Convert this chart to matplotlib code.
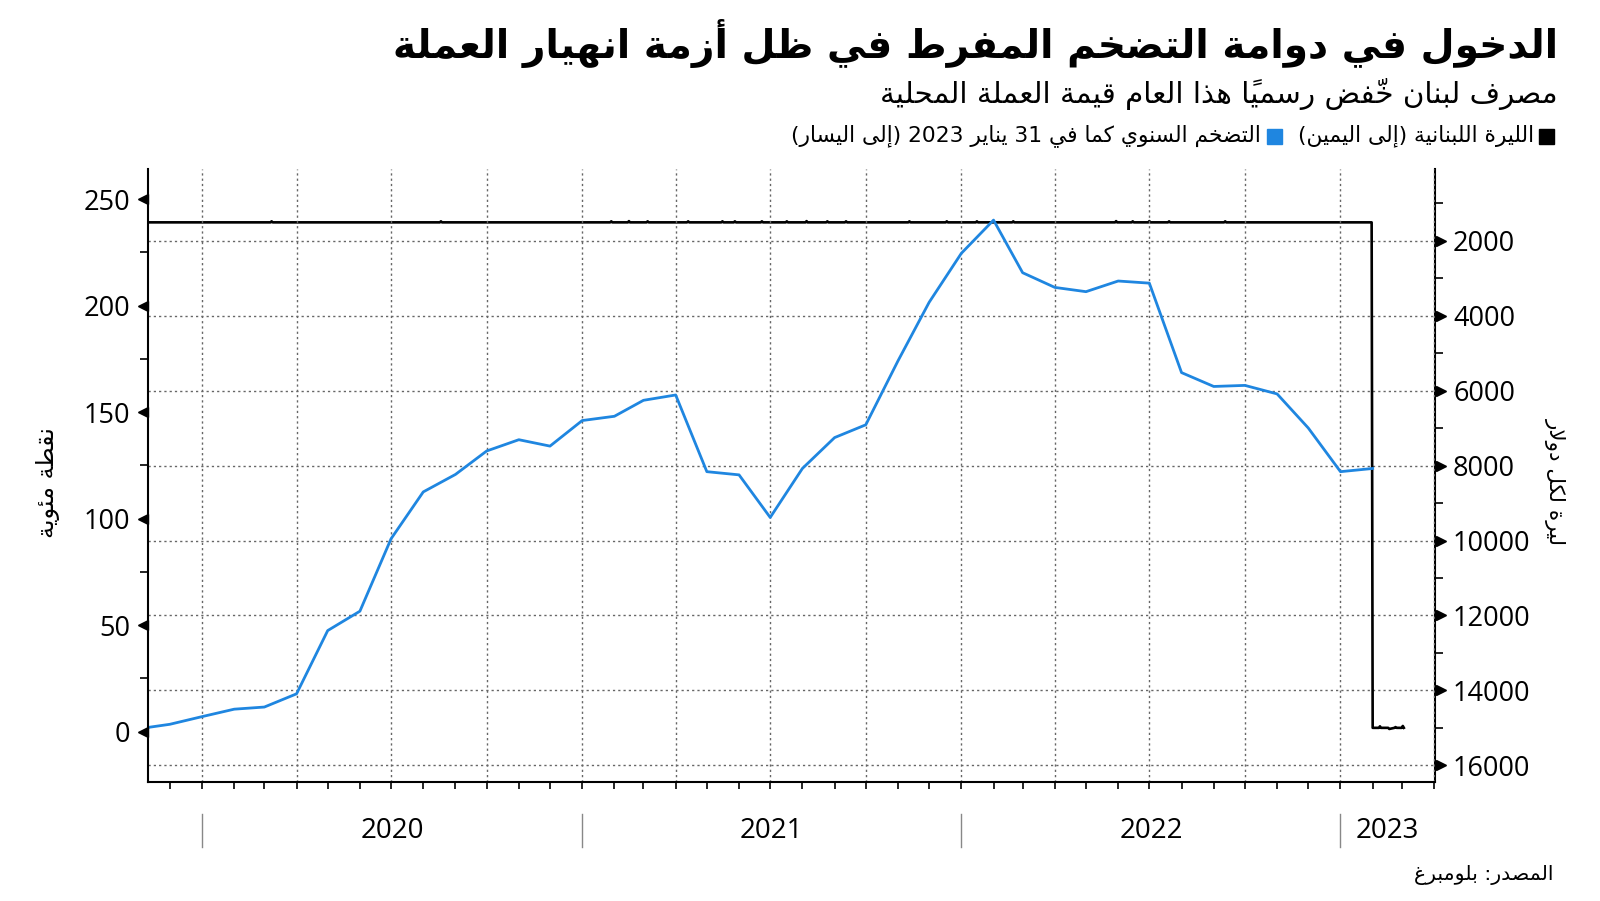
import matplotlib
matplotlib.use("Agg")
import matplotlib.pyplot as plt
import matplotlib.dates as mdates
import matplotlib.transforms as mtransforms
from matplotlib.patches import Rectangle
from matplotlib import font_manager as fm
import numpy as np
import pandas as pd

# ---- data ----
infl_months = pd.period_range("2019-10", "2023-01", freq="M")
infl_values = [1.3, 3.4, 7.0, 10.5, 11.5, 17.7, 47.4, 56.5, 90.5, 112.5,
               120.7, 131.7, 137.0, 134.0, 146.0, 148.0, 155.5, 158.0, 122.0, 120.5,
               100.5, 123.5, 138.0, 144.0, 174.0, 201.5, 224.5, 240.1, 215.4, 208.5,
               206.5, 211.5, 210.5, 168.5, 162.0, 162.5, 158.5, 142.5, 122.0, 123.5]

fx_peg = 1507.5                        # official rate until end of Jan 2023
fx_peg_start, fx_peg_end = "2019-11-01", "2023-01-31"
fx_blip_dates = ["2020-03-08", "2020-08-18", "2021-01-29", "2021-02-15", "2021-03-05",
                 "2021-04-13", "2021-05-16", "2021-05-28", "2021-06-23", "2021-07-17",
                 "2021-08-05", "2021-08-25", "2021-09-12", "2021-11-12", "2021-12-18",
                 "2022-01-16", "2022-02-20", "2022-05-30", "2022-06-15", "2022-07-01",
                 "2022-07-20", "2022-09-12"]
fx_blip_values = [1480, 1480, 1480, 1475, 1480, 1480, 1480, 1480, 1480, 1480,
                  1475, 1480, 1480, 1480, 1480, 1480, 1480, 1475, 1480, 1475,
                  1480, 1480]
fx_new_dates = ["2023-02-01", "2023-02-07", "2023-02-08", "2023-02-09", "2023-02-16",
                "2023-02-17", "2023-02-22", "2023-02-23", "2023-02-24", "2023-03-01",
                "2023-03-02", "2023-03-03"]
fx_new_values = [15000, 15000, 14960, 15000, 15000, 15030, 15000, 14980, 15000,
                 15000, 14950, 15000]

years = [2020, 2021, 2022, 2023]
left_ticks = [0, 50, 100, 150, 200, 250]
left_minor = [25, 75, 125, 175, 225]
right_ticks = [2000, 4000, 6000, 8000, 10000, 12000, 14000, 16000]
right_minor = [1000, 3000, 5000, 7000, 9000, 11000, 13000, 15000]

TITLE = "الدخول في دوامة التضخم المفرط في ظل أزمة انهيار العملة"
SUBTITLE = "مصرف لبنان خفّض رسمياً هذا العام قيمة العملة المحلية"
LEG_FX = "الليرة اللبنانية (إلى اليمين)"
LEG_CPI = "التضخم السنوي كما في 31 يناير 2023 (إلى اليسار)"
YLAB_L = "نقطة مئوية"
YLAB_R = "ليرة لكل دولار"
SOURCE = "المصدر: بلومبرغ"

BLUE = "#1f86e0"

# ---- minimal Arabic shaping + visual ordering (no bidi libs available) ----
DUAL = {'ئ': 0xFE89, 'ب': 0xFE8F, 'ت': 0xFE95, 'ث': 0xFE99, 'ج': 0xFE9D, 'ح': 0xFEA1,
        'خ': 0xFEA5, 'س': 0xFEB1, 'ش': 0xFEB5, 'ص': 0xFEB9, 'ض': 0xFEBD, 'ط': 0xFEC1,
        'ظ': 0xFEC5, 'ع': 0xFEC9, 'غ': 0xFECD, 'ف': 0xFED1, 'ق': 0xFED5, 'ك': 0xFED9,
        'ل': 0xFEDD, 'م': 0xFEE1, 'ن': 0xFEE5, 'ه': 0xFEE9, 'ي': 0xFEF1}
RIGHT = {'آ': 0xFE81, 'أ': 0xFE83, 'ؤ': 0xFE85, 'إ': 0xFE87, 'ا': 0xFE8D, 'ة': 0xFE93,
         'د': 0xFEA9, 'ذ': 0xFEAB, 'ر': 0xFEAD, 'ز': 0xFEAF, 'و': 0xFEED, 'ى': 0xFEEF}
LAMALEF = {'آ': 0xFEF5, 'أ': 0xFEF7, 'إ': 0xFEF9, 'ا': 0xFEFB}
MARKS = {chr(c) for c in range(0x064B, 0x0653)}


def ar(s):
    toks = []
    for ch in s:
        if ch in MARKS and toks:
            toks[-1][1] += ch
        else:
            toks.append([ch, ""])
    merged, i = [], 0
    while i < len(toks):
        c, m = toks[i]
        if c == 'ل' and i + 1 < len(toks) and toks[i + 1][0] in LAMALEF:
            merged.append(["LA" + toks[i + 1][0], m + toks[i + 1][1]])
            i += 2
        else:
            merged.append([c, m])
            i += 1

    def kind(c):
        if c in DUAL:
            return "D"
        if c in RIGHT or (len(c) == 3 and c.startswith("LA")):
            return "R"
        return "N"

    out = []
    for i, (c, m) in enumerate(merged):
        k = kind(c)
        pj = i > 0 and kind(merged[i - 1][0]) == "D"
        nj = i + 1 < len(merged) and kind(merged[i + 1][0]) in "DR"
        if k == "D":
            g = DUAL[c] + (3 if pj and nj else 1 if pj else 2 if nj else 0)
            out.append(chr(g) + m)
        elif k == "R":
            base = LAMALEF[c[2]] if len(c) == 3 else RIGHT[c]
            out.append(chr(base + (1 if pj else 0)) + m)
        else:
            out.append(c + m)
    vis, run = [], ""
    for t in out:
        if t.isdigit():
            run += t
        else:
            if run:
                vis.append(run)
                run = ""
            vis.append({"(": ")", ")": "("}.get(t, t))
    if run:
        vis.append(run)
    return "".join(reversed(vis))


names = {f.name for f in fm.fontManager.ttflist}
YEAR_FONT = "Liberation Sans Narrow" if "Liberation Sans Narrow" in names else "Open Sans"
AR_FONT = ["DejaVu Sans"]

# ---- figure ----
fig = plt.figure(figsize=(16, 9.01), dpi=100)
W, H = 1600, 901
ax = fig.add_axes([148 / W, 1 - 781.6 / H, (1435 - 148) / W, (781.6 - 169.4) / H])
ax2 = ax.twinx()
ax.set_zorder(3)
ax2.set_zorder(2)
ax.patch.set_visible(False)

# FX series (right axis, inverted)
fx = pd.Series(fx_peg, index=pd.date_range(fx_peg_start, fx_peg_end, freq="D"))
fx.loc[pd.to_datetime(fx_blip_dates)] = fx_blip_values
fx = pd.concat([fx, pd.Series(fx_new_values, index=pd.to_datetime(fx_new_dates))])
ax2.plot(fx.index, fx.values, color="black", lw=1.9, solid_joinstyle="round")

# inflation series (left axis)
infl_dates = infl_months.to_timestamp(how="end")
ax.plot(infl_dates, infl_values, color=BLUE, lw=2.0, solid_joinstyle="round")

x0, x1 = pd.Timestamp("2019-11-10"), pd.Timestamp("2023-04-02")
ax.set_xlim(x0, x1)
ax.set_ylim(-23.5, 263.9)
ax2.set_ylim(16435, 94)

ax.xaxis.set_major_locator(mdates.MonthLocator(bymonth=[1, 4, 7, 10]))
ax.xaxis.set_minor_locator(mdates.MonthLocator())
ax.tick_params(axis="x", which="both", length=5, width=1.2, labelbottom=False)

ax.set_yticks(left_ticks)
ax.set_yticks(left_minor, minor=True)
ax2.set_yticks(right_ticks)
ax2.set_yticks(right_minor, minor=True)
for a in (ax, ax2):
    a.tick_params(axis="y", which="major", length=0, pad=13, labelsize=19.5)
    a.tick_params(axis="y", which="minor", length=6, width=1.2)
    for lab in a.get_yticklabels():
        lab.set_fontfamily("Open Sans")

grid_kw = dict(color="#666666", lw=1.0, linestyle=(0, (1.6, 2.2)))
ax.grid(axis="x", which="major", **grid_kw)
ax2.grid(axis="y", which="major", **grid_kw)

for s in ("top", "right"):
    ax.spines[s].set_visible(False)
for s in ("top", "left", "bottom"):
    ax2.spines[s].set_visible(False)
ax.spines["left"].set_linewidth(1.5)
ax.spines["bottom"].set_linewidth(1.5)
ax2.spines["right"].set_linewidth(1.5)

# triangular major tick marks
off_l = ax.get_yaxis_transform() + mtransforms.ScaledTranslation(-5.5 / 100, 0, fig.dpi_scale_trans)
ax.plot(np.zeros(len(left_ticks)), left_ticks, ls="none", marker="<", ms=7.5,
        color="black", transform=off_l, clip_on=False)
off_r = ax2.get_yaxis_transform() + mtransforms.ScaledTranslation(5.5 / 100, 0, fig.dpi_scale_trans)
ax2.plot(np.ones(len(right_ticks)), right_ticks, ls="none", marker=">", ms=7.5,
         color="black", transform=off_r, clip_on=False)

# year labels and separators under the axis
xt = ax.get_xaxis_transform()
for y in years:
    start = pd.Timestamp(f"{y}-01-01")
    end = min(pd.Timestamp(f"{y + 1}-01-01"), x1)
    mid = start + (end - start) / 2
    ax.plot([start, start], [-0.053, -0.107], color="#888888", lw=1.0,
            transform=xt, clip_on=False)
    ax.text(mid, -0.0807, str(y), transform=xt, ha="center", va="center",
            fontsize=20, family=YEAR_FONT)

# ---- texts ----
r = fig.canvas.get_renderer()


def fit(t, size_px, dim="w"):
    bb = t.get_window_extent(r)
    cur = bb.width if dim == "w" else bb.height
    t.set_fontsize(t.get_fontsize() * size_px / cur)


t = fig.text(1558 / W, 1 - 43 / H, ar(TITLE), ha="right", va="center",
             fontsize=30, fontweight="bold", family=AR_FONT)
fit(t, 1162)
t = fig.text(1558 / W, 1 - 94 / H, ar(SUBTITLE), ha="right", va="center",
             fontsize=20, family=AR_FONT)
fit(t, 678)
t = fig.text(1534 / W, 1 - 136 / H, ar(LEG_FX), ha="right", va="center",
             fontsize=14, family=AR_FONT)
fit(t, 240)
t = fig.text(1261 / W, 1 - 136 / H, ar(LEG_CPI), ha="right", va="center",
             fontsize=14, family=AR_FONT)
fit(t, 474)
t = fig.text(1553 / W, 1 - 875 / H, ar(SOURCE), ha="right", va="center",
             fontsize=14, family=AR_FONT)
fit(t, 140)
t = fig.text(48 / W, 1 - 483 / H, ar(YLAB_L), ha="center", va="center",
             rotation=90, fontsize=14, family=AR_FONT)
fit(t, 112, "h")
t = fig.text(1555 / W, 1 - 482 / H, ar(YLAB_R), ha="center", va="center",
             rotation=-90, fontsize=14, family=AR_FONT)
fit(t, 128, "h")

# legend squares
sq = 15
fig.add_artist(Rectangle(((1546 - sq / 2) / W, 1 - (136 + sq / 2) / H), sq / W, sq / H,
                         transform=fig.transFigure, color="black"))
fig.add_artist(Rectangle(((1274 - sq / 2) / W, 1 - (136 + sq / 2) / H), sq / W, sq / H,
                         transform=fig.transFigure, color=BLUE))

fig.savefig("out.png", dpi=100)
